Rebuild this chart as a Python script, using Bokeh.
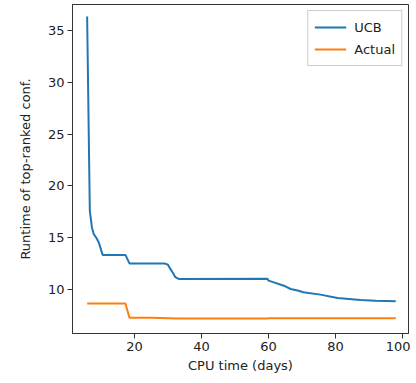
from bokeh.plotting import figure
from bokeh.models import Range1d, FixedTicker, Legend, LegendItem
from bokeh.embed import file_html
from bokeh.resources import INLINE

# UCB estimate of runtime of top-ranked configuration
ucb_x = [5.87, 6.67, 7.3, 7.85, 8.6, 9.35, 10.5, 17.3, 18.5, 29.0, 30.0, 30.7, 31.5, 32.2, 33.2,
         59.7, 60.0, 61.6, 64.6, 66.6, 69.0, 70.4, 75.5, 80.6, 87.5, 92.0, 98.0]
ucb_y = [36.35, 17.6, 16.0, 15.35, 15.0, 14.55, 13.35, 13.35, 12.53, 12.53, 12.4, 12.0, 11.6, 11.2, 11.03,
         11.06, 10.87, 10.7, 10.38, 10.06, 9.9, 9.75, 9.52, 9.2, 9.0, 8.93, 8.87]

# Actual runtime of top-ranked configuration
act_x = [5.87, 17.3, 18.5, 25.0, 33.0, 59.5, 60.0, 78.0, 80.0, 98.0]
act_y = [8.66, 8.66, 7.28, 7.28, 7.22, 7.22, 7.25, 7.25, 7.24, 7.24]

x_ticks = [20, 40, 60, 80, 100]
y_ticks = [10, 15, 20, 25, 30, 35]
labels = ["UCB", "Actual"]
colors = ["#1f77b4", "#ff7f0e"]

FONT = "DejaVu Sans"

p = figure(width=410, height=380, output_backend="svg", toolbar_location=None,
           x_range=Range1d(1.5, 101.8), y_range=Range1d(5.77, 37.5),
           min_border_left=72, min_border_right=2, min_border_top=4, min_border_bottom=47)

p.xgrid.visible = False
p.ygrid.visible = False
p.outline_line_color = "#333333"
p.outline_line_width = 1
p.background_fill_color = "white"
p.border_fill_color = "white"

r1 = p.line(ucb_x, ucb_y, line_color=colors[0], line_width=2)
r2 = p.line(act_x, act_y, line_color=colors[1], line_width=2)

for ax in (p.xaxis[0], p.yaxis[0]):
    ax.axis_line_color = "#333333"
    ax.major_tick_line_color = "#333333"
    ax.major_tick_out = 5
    ax.major_tick_in = 0
    ax.minor_tick_line_color = None
    ax.major_label_text_font = FONT
    ax.major_label_text_font_size = "13px"
    ax.major_label_text_color = "#222222"
    ax.axis_label_text_font = FONT
    ax.axis_label_text_font_size = "13px"
    ax.axis_label_text_font_style = "normal"
    ax.axis_label_text_color = "#222222"

p.xaxis.ticker = FixedTicker(ticks=x_ticks)
p.yaxis.ticker = FixedTicker(ticks=y_ticks)
p.xaxis.axis_label = "CPU time (days)"
p.yaxis.axis_label = "Runtime of top-ranked conf."
p.xaxis.major_label_standoff = 3
p.yaxis.major_label_standoff = 3
p.xaxis.axis_label_standoff = 4
p.yaxis.axis_label_standoff = 12

legend = Legend(items=[LegendItem(label=labels[0], renderers=[r1]),
                       LegendItem(label=labels[1], renderers=[r2])],
                location="top_right")
legend.label_text_font = FONT
legend.label_text_font_size = "13px"
legend.label_text_color = "#222222"
legend.border_line_color = "#cccccc"
legend.border_line_alpha = 1
legend.background_fill_alpha = 0.8
legend.glyph_width = 32
legend.label_standoff = 8
legend.spacing = 2
legend.padding = 6
legend.margin = 6
p.add_layout(legend)

open("out.html", "w").write(file_html(p, INLINE))
